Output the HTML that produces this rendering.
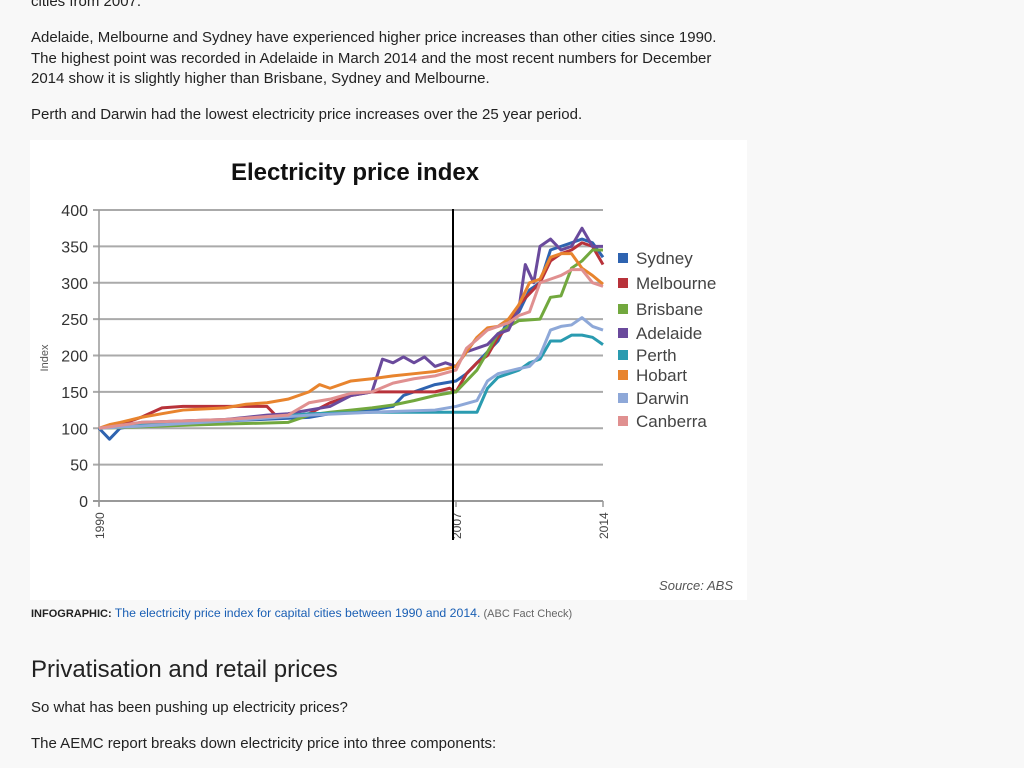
<!DOCTYPE html>
<html><head><meta charset="utf-8"><style>
body{margin:0;background:#f8f8f8;font-family:"Liberation Sans",Arial,sans-serif;color:#222;width:1024px;height:768px;overflow:hidden;position:relative}
.t{position:absolute;left:31px;font-size:15px;line-height:20.5px;margin:0;width:712px}
</style></head><body>
<p class="t" style="top:-8px">cities from 2007.</p>
<p class="t" style="top:28px">Adelaide, Melbourne and Sydney have experienced higher price increases than other cities since 1990. The highest point was recorded in Adelaide in March 2014 and the most recent numbers for December 2014 show it is slightly higher than Brisbane, Sydney and Melbourne.</p>
<p class="t" style="top:105px">Perth and Darwin had the lowest electricity price increases over the 25 year period.</p>
<svg id="chart" style="position:absolute;left:0;top:0" width="1024" height="768" font-family="Liberation Sans, Arial, sans-serif">
<rect x="30" y="140" width="717" height="460" fill="#fff"/>
<text x="355" y="180" text-anchor="middle" font-size="24" font-weight="bold" fill="#111">Electricity price index</text>
<text x="48" y="358" font-size="11" fill="#555" text-anchor="middle" transform="rotate(-90 48 358)">Index</text>
<text x="733" y="590" font-size="13" font-style="italic" fill="#555" text-anchor="end">Source: ABS</text>
<g id="grid"></g><g id="lines"></g><g id="legend"></g>
</svg>
<p style="position:absolute;left:31px;top:606px;margin:0;font-size:11px;color:#666"><b style="color:#222">INFOGRAPHIC:</b> <span style="color:#1a5fb4;font-size:12.3px">The electricity price index for capital cities between 1990 and 2014.</span> (ABC Fact Check)</p>
<h2 style="position:absolute;left:31px;top:656px;margin:0;font-weight:normal;font-size:24px;color:#222">Privatisation and retail prices</h2>
<p class="t" style="top:698px">So what has been pushing up electricity prices?</p>
<p class="t" style="top:734px">The AEMC report breaks down electricity price into three components:</p>
<script>
const yTicks=[0,50,100,150,200,250,300,350,400];
const xTicks=[1990,2007,2014];
const seriesNames=["Sydney","Melbourne","Brisbane","Adelaide","Perth","Hobart","Darwin","Canberra"];
const seriesColors=["#2e63b0","#b8323a","#72a83e","#6a4a9c","#2a9bb0","#e8842e","#8ea8d8","#e09090"];
const sydney=[[1990,100],[1990.5,85],[1991,100],[1992,105],[1996,110],[2000,115],[2001,120],[2003,125],[2004,130],[2004.5,145],[2005,150],[2006,160],[2007,165],[2007.5,175],[2008,190],[2009,220],[2009.5,250],[2010,260],[2010.5,290],[2011,300],[2011.5,345],[2012,350],[2012.5,355],[2013,360],[2013.5,355],[2014,335]];
const melbourne=[[1990,100],[1991,105],[1992,115],[1993,128],[1994,130],[1998,130],[1998.5,115],[2000,120],[2001,135],[2002,145],[2003,150],[2006,150],[2006.7,155],[2007,150],[2007.5,175],[2008,190],[2008.5,200],[2009,225],[2009.5,240],[2010,270],[2010.5,285],[2011,300],[2011.5,330],[2012,340],[2012.5,345],[2013,355],[2013.5,350],[2014,325]];
const brisbane=[[1990,100],[1992,102],[1995,105],[1999,108],[2000,118],[2001,122],[2002,125],[2003,128],[2004,132],[2005,138],[2006,145],[2007,150],[2007.5,165],[2008,180],[2008.5,205],[2009,230],[2009.5,240],[2010,248],[2011,250],[2011.5,280],[2012,282],[2012.5,320],[2013,330],[2013.5,345],[2014,345]];
const adelaide=[[1990,100],[1992,108],[1996,112],[1997,115],[1998,118],[1999,120],[2000,125],[2001,130],[2002,145],[2003,150],[2003.5,195],[2004,190],[2004.5,198],[2005,190],[2005.5,198],[2006,185],[2006.5,190],[2007,185],[2007.5,205],[2008,210],[2008.5,215],[2009,230],[2009.5,235],[2010,265],[2010.3,325],[2010.7,300],[2011,350],[2011.5,360],[2012,345],[2012.5,350],[2013,375],[2013.5,350],[2014,350]];
const perth=[[1990,100],[1992,105],[1996,110],[2000,120],[2003,122],[2008,122],[2008.5,155],[2009,170],[2010,180],[2010.5,190],[2011,195],[2011.5,220],[2012,220],[2012.5,228],[2013,228],[2013.5,225],[2014,215]];
const hobart=[[1990,100],[1990.5,105],[1991,108],[1992,115],[1993,120],[1994,125],[1996,128],[1997,133],[1998,135],[1999,140],[2000,150],[2000.5,160],[2001,155],[2002,165],[2003,168],[2004,172],[2005,175],[2006,178],[2007,185],[2007.5,205],[2008,225],[2008.5,238],[2009,240],[2009.5,250],[2010,270],[2010.5,300],[2011,305],[2011.5,335],[2012,340],[2012.5,340],[2013,320],[2013.5,310],[2014,298]];
const darwin=[[1990,100],[1992,103],[1996,110],[2000,118],[2003,122],[2006,125],[2007,130],[2008,138],[2008.5,165],[2009,175],[2010,182],[2010.5,185],[2011,200],[2011.5,235],[2012,240],[2012.5,242],[2013,252],[2013.5,240],[2014,235]];
const canberra=[[1990,100],[1992,108],[1996,112],[1999,118],[2000,135],[2001,140],[2002,148],[2003,150],[2004,162],[2005,168],[2006,172],[2007,180],[2007.5,210],[2008,222],[2008.5,235],[2009,240],[2009.5,245],[2010,255],[2010.5,260],[2011,300],[2011.5,305],[2012,310],[2012.5,318],[2013,318],[2013.5,300],[2014,295]];
const allSeries=[sydney,melbourne,brisbane,adelaide,perth,hobart,darwin,canberra];
const NS="http://www.w3.org/2000/svg";
const x=v=>99+(v-1990)*(603-99)/24;
const y=v=>501-v*(501-210)/400;
function mk(tag,attrs,parent){const e=document.createElementNS(NS,tag);for(const k in attrs)e.setAttribute(k,attrs[k]);parent.appendChild(e);return e;}
const grid=document.getElementById('grid');
yTicks.forEach(t=>{
 const l=mk('line',{x1:93,x2:603,y1:y(t),y2:y(t),stroke:t===0?'#999':'#aaa','stroke-width':2},grid);
 
 
 const tx=mk('text',{x:88,y:y(t)+6,'text-anchor':'end','font-size':16,fill:'#333'},grid);
 tx.textContent=t;
 
 
});
const ya=mk('line',{x1:99,x2:99,y1:210,y2:506,stroke:'#999','stroke-width':1.5},grid);


xTicks.forEach(t=>{
 const tk=mk('line',{x1:x(t),x2:x(t),y1:501,y2:507,stroke:'#999','stroke-width':1.5},grid);
 
 
 const tx=mk('text',{x:x(t)+5,y:539,'font-size':12,fill:'#444','text-anchor':'start',transform:`rotate(-90 ${x(t)+5} 539)`},grid);
 tx.textContent=t;
 
 
});
const lines=document.getElementById('lines');
allSeries.forEach((s,i)=>{
 const p=mk('polyline',{points:s.map(d=>x(d[0])+','+y(d[1])).join(' '),fill:'none',stroke:seriesColors[i],'stroke-width':3,'stroke-linejoin':'round'},lines);
 
 
});
const vl=mk('line',{x1:453,x2:453,y1:209,y2:540,stroke:'#000','stroke-width':2},lines);


const leg=document.getElementById('legend');
const legY=[258,283,309,333,355,375,398,421];
seriesNames.forEach((n,i)=>{
 const r=mk('rect',{x:618,y:legY[i]-5,width:10,height:10,fill:seriesColors[i]},leg);
 
 
 const tx=mk('text',{x:636,y:legY[i]+6,'font-size':17,fill:'#444'},leg);
 tx.textContent=n;
 
 
});
</script>
</body></html>
